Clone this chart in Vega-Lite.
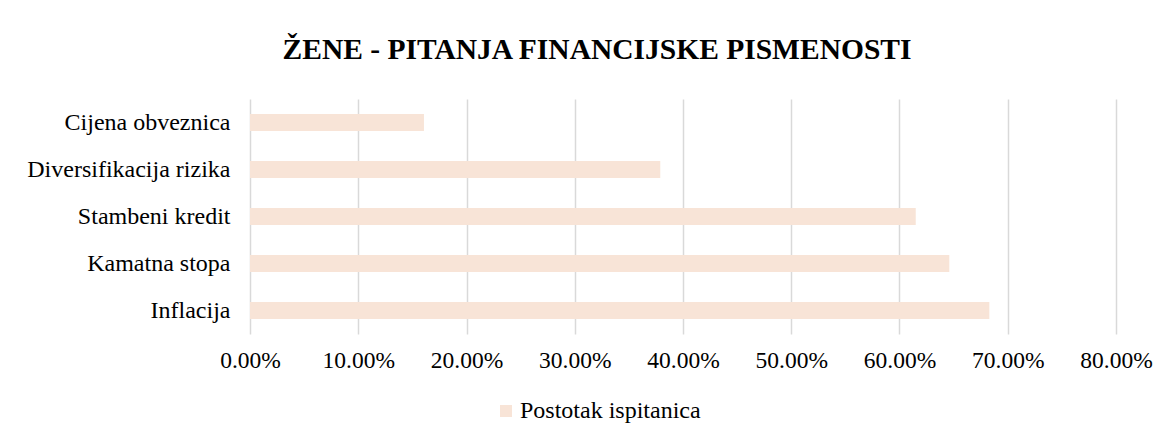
{
  "$schema": "https://vega.github.io/schema/vega-lite/v6.json",
  "autosize": "none",
  "width": 866,
  "height": 235,
  "padding": {"left": 250, "top": 99, "right": 53, "bottom": 110},
  "background": "white",
  "title": {
    "text": "ŽENE - PITANJA FINANCIJSKE PISMENOSTI",
    "font": "Liberation Serif",
    "fontSize": 29.5,
    "fontWeight": "bold",
    "color": "#000000",
    "anchor": "middle",
    "baseline": "alphabetic",
    "offset": 11,
    "dx": -86
  },
  "data": {
    "values": [
      {"pitanje": "Cijena obveznica", "postotak": 0.1607},
      {"pitanje": "Diversifikacija rizika", "postotak": 0.379},
      {"pitanje": "Stambeni kredit", "postotak": 0.615},
      {"pitanje": "Kamatna stopa", "postotak": 0.646},
      {"pitanje": "Inflacija", "postotak": 0.683}
    ]
  },
  "mark": {"type": "bar"},
  "encoding": {
    "y": {
      "field": "pitanje",
      "type": "nominal",
      "sort": null,
      "scale": {"paddingInner": 0.64, "paddingOuter": 0.32},
      "axis": {
        "title": null,
        "domain": false,
        "ticks": false,
        "grid": false,
        "labelFont": "Liberation Serif",
        "labelFontSize": 24,
        "labelColor": "#000000",
        "labelPadding": 20,
        "labelLimit": 400
      }
    },
    "x": {
      "field": "postotak",
      "type": "quantitative",
      "scale": {"domain": [0, 0.8], "nice": false},
      "axis": {
        "title": null,
        "values": [0, 0.1, 0.2, 0.3, 0.4, 0.5, 0.6, 0.7, 0.8],
        "format": ".2%",
        "domain": false,
        "ticks": false,
        "grid": true,
        "gridColor": "#D9D9D9",
        "gridWidth": 1.5,
        "labelFont": "Liberation Serif",
        "labelFontSize": 23.5,
        "labelColor": "#000000",
        "labelPadding": 14,
        "labelFlush": false
      }
    },
    "color": {
      "datum": "Postotak ispitanica",
      "type": "nominal",
      "scale": {"range": ["#F8E4D7"]},
      "legend": {
        "title": null,
        "orient": "none",
        "legendX": 244,
        "legendY": 300,
        "padding": 0,
        "symbolType": "square",
        "symbolSize": 144,
        "symbolStrokeWidth": 0,
        "labelFont": "Liberation Serif",
        "labelFontSize": 24,
        "labelColor": "#000000",
        "labelOffset": 2,
        "labelLimit": 400
      }
    }
  },
  "config": {
    "view": {"stroke": null}
  }
}
